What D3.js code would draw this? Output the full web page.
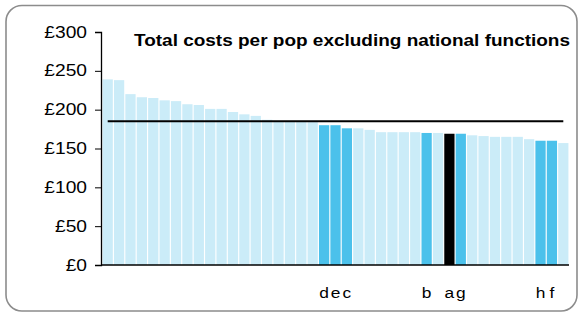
<!DOCTYPE html>
<html>
<head>
<meta charset="utf-8">
<script src="https://cdn.jsdelivr.net/npm/d3@7"></script>
<style>
    body { margin: 0; background: #fff; }
    text { font-family: "Liberation Sans", Arial, sans-serif; }
</style>
</head>
<body>
<svg id="chart" width="579" height="313"></svg>
<script>
// Chart data.
const values = [239, 238, 220, 216, 215, 212, 211, 207, 206, 201, 201,
    197, 194, 192, 187, 185, 185, 185, 184, 180, 180, 176, 176, 174,
    171, 171, 171, 171, 170, 170, 169, 169, 167, 166, 165, 165, 165,
    162, 160, 160, 157];
// Highlight kind per bar: 0 = other, 1 = named, 2 = selected.
const kinds = [0, 0, 0, 0, 0, 0, 0, 0, 0, 0, 0, 0, 0, 0, 0, 0, 0, 0, 0,
    1, 1, 1, 0, 0, 0, 0, 0, 0, 1, 0, 2, 1, 0, 0, 0, 0, 0, 0, 1, 1, 0];
const labels = ["", "", "", "", "", "", "", "", "", "", "", "", "", "", "",
    "", "", "", "", "d", "e", "c", "", "", "", "", "", "", "b", "", "a",
    "g", "", "", "", "", "", "", "h", "f", ""];
const average = 185;
const yTicks = [0, 50, 100, 150, 200, 250, 300];
const title = "Total costs per pop excluding national functions";

// Display parameters.
let colours = ["#cbecf8", "#4bc1eb", "#000000"];
// The reference text is a little wider than the font, so stretch it.
let stretch = 1.2;

let svg = d3.select("#chart");

// Rounded frame.
svg.append("rect")
    .attr("x", 6)
    .attr("y", 5.5)
    .attr("width", 571)
    .attr("height", 305.5)
    .attr("rx", 16)
    .attr("fill", "#fff")
    .attr("stroke", "#8c8c8c")
    .attr("stroke-width", 1.6);

let x = d3.scaleBand()
    .domain(d3.range(values.length))
    .range([102, 569])
    .paddingInner(0.1)
    .paddingOuter(0.05);

let y = d3.scaleLinear()
    .domain([0, 300])
    .range([265, 32]);

// Bars.
svg.append("g")
    .selectAll("rect")
    .data(values)
    .enter()
    .append("rect")
    .attr("x", function(d, i) { return x(i); })
    .attr("y", function(d) { return y(d); })
    .attr("width", x.bandwidth())
    .attr("height", function(d) { return y(0) - y(d); })
    .attr("fill", function(d, i) { return colours[kinds[i]]; });

// Average line.
svg.append("line")
    .attr("x1", x(0) + x.bandwidth() / 2)
    .attr("x2", x(values.length - 1) + x.bandwidth() / 2)
    .attr("y1", y(average))
    .attr("y2", y(average))
    .attr("stroke", "#000")
    .attr("stroke-width", 2);

// Y axis.
let yAxis = svg.append("g")
    .attr("transform", "translate(101,0)")
    .call(d3.axisLeft(y)
        .tickValues(yTicks)
        .tickSize(6)
        .tickPadding(14)
        .tickFormat(function(d) { return "£" + d; }));
yAxis.selectAll("text")
    .attr("x", 0)
    .attr("transform", `translate(-14,0) scale(${stretch},1)`)
    .attr("font-size", 16)
    .attr("fill", "#000")
    .attr("font-family", "Liberation Sans, Arial, sans-serif");
yAxis.selectAll("line").attr("stroke", "#000");
yAxis.select(".domain").attr("stroke", "#000").attr("stroke-width", 1.3);

// X axis baseline.
svg.append("line")
    .attr("x1", 101)
    .attr("x2", 569)
    .attr("y1", y(0))
    .attr("y2", y(0))
    .attr("stroke", "#000")
    .attr("stroke-width", 1.5);

// Bar letters.
svg.append("g")
    .selectAll("text")
    .data(labels)
    .enter()
    .append("text")
    .attr("transform", function(d, i) {
        return `translate(${x(i) + x.bandwidth() / 2},298) scale(1.12,1)`;
    })
    .attr("text-anchor", "middle")
    .attr("font-size", 15.5)
    .text(function(d) { return d; });

// Title, stretched to the reference width.
svg.append("text")
    .attr("x", 134)
    .attr("y", 46)
    .attr("font-size", 16)
    .attr("font-weight", "bold")
    .attr("textLength", 436)
    .attr("lengthAdjust", "spacingAndGlyphs")
    .text(title);
</script>
</body>
</html>
